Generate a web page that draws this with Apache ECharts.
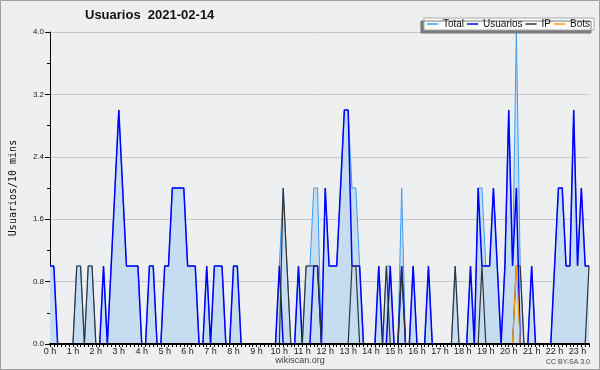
<!DOCTYPE html>
<html>
<head>
<meta charset="utf-8">
<script src="https://cdn.jsdelivr.net/npm/echarts@6/dist/echarts.min.js"></script>
<style>
  html, body { margin: 0; padding: 0; background: #eeeff1; }
  #chart { width: 600px; height: 370px; }
</style>
</head>
<body>
<div id="chart"></div>
<script>
// one value per 10-minute bin, 00:00 .. 23:30 (6 bins per row = 1 hour)
const total = [
  1,1,0,0,0,0,  0,1,1,0,1,1,  0,0,1,0,1,2,  3,2,1,1,1,1,
  0,0,1,1,0,0,  1,1,2,2,2,2,  1,1,1,0,0,1,  0,1,1,1,0,0,
  1,1,0,0,0,0,  0,0,0,0,0,0,  1,2,1,0,0,1,  0,1,1,2,2,0,
  2,1,1,1,2,3,  3,2,2,1,0,0,  0,0,1,0,1,1,  0,0,2,0,0,1,
  0,0,0,1,0,0,  0,0,0,0,1,0,  0,0,1,0,2,2,  1,1,2,1,0,1,
  3,1,4,1,0,0,  1,0,0,0,0,0,  1,2,2,1,1,3,  1,2,1,1
];
const usuarios = [
  1,1,0,0,0,0,  0,0,0,0,0,0,  0,0,1,0,1,2,  3,2,1,1,1,1,
  0,0,1,1,0,0,  1,1,2,2,2,2,  1,1,1,0,0,1,  0,1,1,1,0,0,
  1,1,0,0,0,0,  0,0,0,0,0,0,  1,0,0,0,0,1,  0,0,0,1,1,0,
  2,1,1,1,2,3,  3,1,1,1,0,0,  0,0,1,0,0,1,  0,0,1,0,0,1,
  0,0,0,1,0,0,  0,0,0,0,0,0,  0,0,1,0,2,1,  1,1,2,1,0,1,
  3,1,2,0,0,0,  1,0,0,0,0,0,  1,2,2,1,1,3,  1,2,1,1
];
const ip = [
  0,0,0,0,0,0,  0,1,1,0,1,1,  0,0,0,0,0,0,  0,0,0,0,0,0,
  0,0,0,0,0,0,  0,0,0,0,0,0,  0,0,0,0,0,0,  0,0,0,0,0,0,
  0,0,0,0,0,0,  0,0,0,0,0,0,  0,2,1,0,0,0,  0,1,1,1,1,0,
  0,0,0,0,0,0,  0,1,1,0,0,0,  0,0,0,0,1,0,  0,0,1,0,0,0,
  0,0,0,0,0,0,  0,0,0,0,1,0,  0,0,0,0,0,1,  0,0,0,0,0,0,
  0,0,1,1,0,0,  0,0,0,0,0,0,  0,0,0,0,0,0,  0,0,0,1
];
const bots = [
  0,0,0,0,0,0,  0,0,0,0,0,0,  0,0,0,0,0,0,  0,0,0,0,0,0,
  0,0,0,0,0,0,  0,0,0,0,0,0,  0,0,0,0,0,0,  0,0,0,0,0,0,
  0,0,0,0,0,0,  0,0,0,0,0,0,  0,0,0,0,0,0,  0,0,0,0,0,0,
  0,0,0,0,0,0,  0,0,0,0,0,0,  0,0,0,0,0,0,  0,0,0,0,0,0,
  0,0,0,0,0,0,  0,0,0,0,0,0,  0,0,0,0,0,0,  0,0,0,0,0,0,
  0,0,1,0,0,0,  0,0,0,0,0,0,  0,0,0,0,0,0,  0,0,0,0
];
const hourLabels = [
  '0 h','1 h','2 h','3 h','4 h','5 h','6 h','7 h','8 h','9 h','10 h','11 h',
  '12 h','13 h','14 h','15 h','16 h','17 h','18 h','19 h','20 h','21 h','22 h','23 h'
];
const seriesNames = ['Total', 'Usuarios', 'IP', 'Bots'];

const BIN = 10; // minutes per bin; each point sits on its bin's start tick
const toPoints = (arr) => arr.map((v, i) => [i * BIN, v]);
const lastMinute = (total.length - 1) * BIN;

const SANS = '"Liberation Sans", Arial, sans-serif';
const colors = { Total: '#3d9df2', Usuarios: '#0000ff', IP: '#333333', Bots: '#ff9a00' };

const chart = echarts.init(document.getElementById('chart'));
chart.setOption({
  animation: false,
  backgroundColor: '#eeeff1',
  title: {
    text: 'Usuarios  2021-02-14',
    left: 80,
    top: 4,
    textStyle: { fontFamily: SANS, fontSize: 13, fontWeight: 'bold', color: '#111' },
  },
  legend: {
    data: seriesNames,
    right: 6,
    top: 18,
    icon: 'rect',
    itemWidth: 11,
    itemHeight: 1.5,
    itemGap: 3,
    padding: [1, 4, 1, 3],
    backgroundColor: '#ffffff',
    borderColor: '#a8a8a8',
    borderWidth: 1,
    shadowColor: '#7a7a7a',
    shadowOffsetX: -3,
    shadowOffsetY: 3,
    shadowBlur: 0,
    textStyle: { fontFamily: SANS, fontSize: 10, color: '#111' },
  },
  grid: { left: 45, right: 11, top: 32, bottom: 26 },
  xAxis: {
    type: 'value',
    min: 0,
    max: lastMinute,
    interval: BIN,
    z: 5,
    axisLine: { lineStyle: { color: '#000', width: 2 } },
    axisTick: { length: 3, lineStyle: { color: '#000' } },
    splitLine: { show: false },
    axisLabel: {
      fontFamily: SANS,
      fontSize: 9,
      color: '#222',
      margin: 3,
      formatter: (v) => (v % 60 === 0 ? hourLabels[v / 60] : ''),
    },
  },
  yAxis: {
    type: 'value',
    min: 0,
    max: 4,
    interval: 0.8,
    name: 'Usuarios/10 mins',
    nameLocation: 'middle',
    nameGap: 32,
    nameTextStyle: { fontFamily: '"DejaVu Sans Mono", monospace', fontSize: 10, color: '#111' },
    axisLine: { show: true, lineStyle: { color: '#000' } },
    axisTick: { show: true, length: 5, lineStyle: { color: '#000' } },
    minorTick: { show: true, splitNumber: 2, length: 3, lineStyle: { color: '#000' } },
    splitLine: { lineStyle: { color: '#c8c8c8' } },
    axisLabel: {
      fontFamily: SANS,
      fontSize: 8,
      color: '#222',
      margin: 6,
      formatter: (v) => v.toFixed(1),
    },
  },
  series: [
    {
      name: 'Total', type: 'line', data: toPoints(total), symbol: 'none',
      lineStyle: { color: colors.Total, width: 1 },
      itemStyle: { color: colors.Total },
      areaStyle: { color: '#c6dcf0', opacity: 1 },
    },
    {
      name: 'Usuarios', type: 'line', data: toPoints(usuarios), symbol: 'none',
      lineStyle: { color: colors.Usuarios, width: 1.5 },
      itemStyle: { color: colors.Usuarios },
    },
    {
      name: 'IP', type: 'line', data: toPoints(ip), symbol: 'none',
      lineStyle: { color: colors.IP, width: 1.2 },
      itemStyle: { color: colors.IP },
    },
    {
      name: 'Bots', type: 'line', data: toPoints(bots), symbol: 'none',
      lineStyle: { color: colors.Bots, width: 1.2 },
      itemStyle: { color: colors.Bots },
    },
  ],
  graphic: [
    {
      type: 'rect', silent: true,
      shape: { x: 0.5, y: 0.5, width: 599, height: 369 },
      style: { fill: null, stroke: '#a0a0a0', lineWidth: 1 },
    },
    {
      type: 'text', left: 'center', top: 356, silent: true,
      style: { text: 'wikiscan.org', font: '9px ' + SANS, fill: '#444' },
    },
    {
      type: 'text', right: 10, top: 359, silent: true,
      style: { text: 'CC BY-SA 3.0', font: '7px ' + SANS, fill: '#444' },
    },
  ],
});
</script>
</body>
</html>
